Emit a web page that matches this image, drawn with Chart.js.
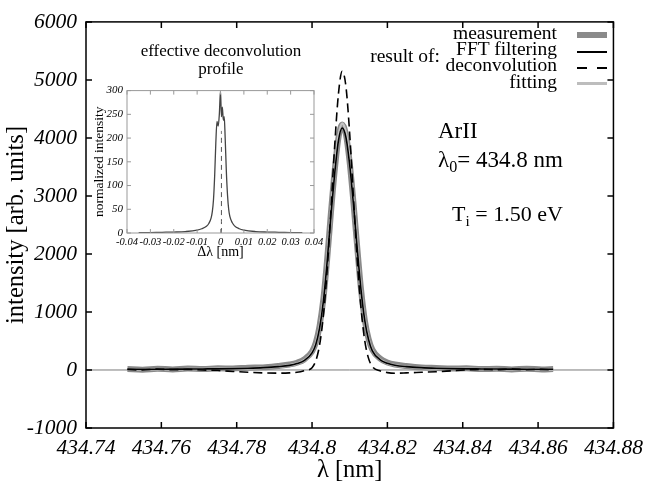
<!DOCTYPE html>
<html>
<head>
<meta charset="utf-8">
<script src="https://cdn.jsdelivr.net/npm/chart.js@4.4.0/dist/chart.umd.min.js"></script>
<style>
  body { margin: 0; background: #fff; }
  #wrap { position: relative; width: 650px; height: 487px; font-family: "Liberation Serif", "DejaVu Serif", serif; color: #000; }
  #wrap canvas { position: absolute; }
  .txt { position: absolute; white-space: nowrap; }
  .txt sub { font-size: 70%; vertical-align: -0.3em; line-height: 0; }
  .key { position: absolute; left: 577px; width: 30px; height: 0; }
</style>
</head>
<body>
<div id="wrap">
  <canvas id="main" width="650" height="487" style="left:0;top:0"></canvas>
  <canvas id="inset" width="245" height="183" style="left:90px;top:80px"></canvas>

  <div class="txt" style="left:121px;width:200px;top:42px;font-size:17px;line-height:18px;text-align:center">effective deconvolution<br>profile</div>

  <div class="txt" style="right:210px;top:48px;font-size:19.5px;line-height:16.2px">result of:</div>
  <div class="txt" style="right:93px;top:25px;font-size:19.5px;line-height:16.2px;text-align:right">measurement<br>FFT filtering<br>deconvolution<br>fitting</div>
  <div class="key" style="top:32px;border-top:6px solid #8a8a8a"></div>
  <div class="key" style="top:51px;border-top:2px solid #000"></div>
  <div class="key" style="top:67px;height:2px;background:repeating-linear-gradient(to right,#000 0 10px,transparent 10px 20px)"></div>
  <div class="key" style="top:82px;border-top:3px solid #bdbdbd"></div>

  <div class="txt" style="left:438px;top:119px;font-size:23px;line-height:23px">ArII</div>
  <div class="txt" style="left:438px;top:148px;font-size:23px;line-height:23px">λ<sub>0</sub>= 434.8 nm</div>
  <div class="txt" style="left:452px;top:203px;font-size:22px;line-height:22px">T<sub>i</sub> = 1.50 eV</div>
</div>
<script>
// main spectrum, wavelength in nm
const lambda = [434.751, 434.755, 434.759, 434.763, 434.767, 434.771, 434.775, 434.779, 434.783, 434.787, 434.791,
  434.794, 434.796, 434.798,
  434.800, 434.801, 434.802, 434.803, 434.804, 434.805, 434.806, 434.807,
  434.808,
  434.809, 434.810, 434.811, 434.812, 434.813, 434.814, 434.815, 434.816,
  434.818, 434.820, 434.822, 434.825, 434.829, 434.833, 434.837, 434.841, 434.845, 434.849, 434.853, 434.857, 434.861, 434.864];

const measured = [15, 5, 20, 10, 25, 15, 30, 25, 40, 45, 70,
  95, 125, 185,
  320, 470, 760, 1220, 1900, 2700, 3430, 4000,
  4230,
  4060, 3570, 2880, 2110, 1390, 860, 540, 350,
  200, 130, 95, 70, 45, 35, 25, 30, 15, 20, 10, 20, 10, 15];

const fftFiltered = [12, 12, 13, 14, 16, 18, 20, 24, 30, 40, 58,
  80, 110, 165,
  295, 440, 720, 1180, 1860, 2660, 3380, 3950,
  4170,
  4010, 3530, 2850, 2090, 1380, 850, 520, 330,
  180, 115, 82, 58, 40, 30, 24, 20, 18, 16, 14, 13, 12, 12];

const deconvolved = [10, 0, 15, 5, 10, 0, -10, -25, -40, -50, -55,
  -50, -40, -10,
  40, 160, 430, 932, 1707, 2740, 3856, 4757,
  5150,
  4883, 4064, 2966, 1898, 1065, 500, 200, 60,
  -15, -45, -55, -50, -40, -30, -15, 0, 10, 5, 15, 5, 10, 0];

const fitted = [10, 11, 12, 13, 15, 17, 20, 24, 30, 40, 58,
  82, 112, 170,
  305, 455, 740, 1200, 1890, 2700, 3440, 4020,
  4250,
  4080, 3590, 2890, 2120, 1390, 860, 530, 335,
  180, 115, 82, 58, 40, 30, 24, 20, 17, 15, 13, 12, 11, 10];

const zeroX = [434.74, 434.88];
const zeroY = [0, 0];

const xTicks = [434.74, 434.76, 434.78, 434.8, 434.82, 434.84, 434.86, 434.88];
const yTicks = [-1000, 0, 1000, 2000, 3000, 4000, 5000, 6000];

// inset: effective deconvolution profile
const profileDl = [-0.035, -0.03, -0.025, -0.02, -0.015, -0.01, -0.008, -0.006, -0.005, -0.004, -0.0035, -0.003,
  -0.0025, -0.002, -0.0015, -0.001, -0.0005, 0, 0.0004, 0.0008, 0.0012, 0.0016, 0.002, 0.0025,
  0.003, 0.0035, 0.004, 0.005, 0.006, 0.008, 0.01, 0.015, 0.02, 0.025, 0.03, 0.035];
const profileVal = [0.5, 1, 1.5, 2, 3, 6, 9, 14, 20, 32, 45, 70,
  120, 190, 235, 225, 250, 300, 245, 265, 238, 245, 200, 130,
  80, 50, 35, 22, 15, 9, 6, 3, 2, 1.5, 1, 0.5];
const centreX = [0.0004, 0.0004];
const centreY = [0, 215];

const inXTicks = [-0.04, -0.03, -0.02, -0.01, 0, 0.01, 0.02, 0.03, 0.04];
const inYTicks = [0, 50, 100, 150, 200, 250, 300];

const zip = (xs, ys) => xs.map((v, i) => ({ x: v, y: ys[i] }));

// box around the plot with inward ticks on all four sides
const frameTicks = {
  id: "frameTicks",
  afterDatasetsDraw(chart, args, opts) {
    const { ctx, chartArea: a, scales: { x, y } } = chart;
    ctx.save();
    ctx.strokeStyle = opts.color;
    ctx.lineWidth = opts.width;
    ctx.strokeRect(a.left, a.top, a.right - a.left, a.bottom - a.top);
    ctx.beginPath();
    x.ticks.forEach(t => {
      const px = x.getPixelForValue(t.value);
      ctx.moveTo(px, a.bottom); ctx.lineTo(px, a.bottom - opts.len);
      ctx.moveTo(px, a.top); ctx.lineTo(px, a.top + opts.len);
    });
    y.ticks.forEach(t => {
      const py = y.getPixelForValue(t.value);
      ctx.moveTo(a.left, py); ctx.lineTo(a.left + opts.len, py);
      ctx.moveTo(a.right, py); ctx.lineTo(a.right - opts.len, py);
    });
    ctx.stroke();
    ctx.restore();
  }
};

const serif = "'Liberation Serif', 'DejaVu Serif', serif";

function line(data, color, width, order, dash) {
  return {
    data,
    borderColor: color,
    borderWidth: width,
    borderDash: dash || [],
    pointRadius: 0,
    fill: false,
    cubicInterpolationMode: "monotone",
    order
  };
}

new Chart(document.getElementById("main"), {
  type: "line",
  data: {
    datasets: [
      line(zip(zeroX, zeroY), "#7a7a7a", 1, 5),
      line(zip(lambda, measured), "#8a8a8a", 6, 4),
      line(zip(lambda, fitted), "#c4c4c4", 2.5, 3),
      line(zip(lambda, fftFiltered), "#000", 1.6, 2),
      line(zip(lambda, deconvolved), "#000", 1.6, 1, [9, 5])
    ]
  },
  options: {
    responsive: false,
    animation: false,
    layout: { padding: { top: 15, right: 28, left: 0, bottom: 0 } },
    plugins: {
      legend: { display: false },
      tooltip: { enabled: false },
      frameTicks: { color: "#000", width: 1.5, len: 6 }
    },
    scales: {
      x: {
        type: "linear",
        min: 434.74,
        max: 434.88,
        afterBuildTicks: s => { s.ticks = xTicks.map(v => ({ value: v })); },
        afterFit: s => { s.height = 59; },
        grid: { display: false, drawTicks: false },
        border: { display: false },
        ticks: {
          autoSkip: false,
          maxRotation: 0,
          padding: 7,
          color: "#000",
          font: { family: serif, size: 21.5, style: "italic" },
          callback: v => String(Number(v.toFixed(2)))
        },
        title: {
          display: true,
          text: "λ [nm]",
          color: "#000",
          padding: { top: 0, bottom: 2 },
          font: { family: serif, size: 24.5 }
        }
      },
      y: {
        min: -1000,
        max: 6000,
        afterBuildTicks: s => { s.ticks = yTicks.map(v => ({ value: v })); },
        afterFit: s => { s.width = 86; },
        grid: { display: false, drawTicks: false },
        border: { display: false },
        ticks: {
          padding: 9,
          color: "#000",
          font: { family: serif, size: 21.5, style: "italic" },
          callback: v => String(v)
        },
        title: {
          display: true,
          text: "intensity [arb. units]",
          color: "#000",
          padding: { top: 2, bottom: 0 },
          font: { family: serif, size: 24.5 }
        }
      }
    }
  },
  plugins: [frameTicks]
});

new Chart(document.getElementById("inset"), {
  type: "line",
  data: {
    datasets: [
      line(zip(profileDl, profileVal), "#444", 1.3, 2),
      line(zip(centreX, centreY), "#555", 1, 1, [5, 4])
    ]
  },
  options: {
    responsive: false,
    animation: false,
    layout: { padding: { top: 9, right: 21, left: 0, bottom: 0 } },
    plugins: {
      legend: { display: false },
      tooltip: { enabled: false },
      frameTicks: { color: "#999", width: 1, len: 4 }
    },
    scales: {
      x: {
        type: "linear",
        min: -0.04,
        max: 0.04,
        afterBuildTicks: s => { s.ticks = inXTicks.map(v => ({ value: v })); },
        afterFit: s => { s.height = 30; },
        grid: { display: false, drawTicks: false },
        border: { display: false },
        ticks: {
          autoSkip: false,
          maxRotation: 0,
          padding: 3,
          color: "#000",
          font: { family: serif, size: 10.5, style: "italic" },
          callback: v => (v === 0 ? "0" : v.toFixed(2))
        },
        title: {
          display: true,
          text: "Δλ [nm]",
          color: "#000",
          padding: { top: 0, bottom: 2 },
          font: { family: serif, size: 14 }
        }
      },
      y: {
        min: 0,
        max: 300,
        afterBuildTicks: s => { s.ticks = inYTicks.map(v => ({ value: v })); },
        afterFit: s => { s.width = 37; },
        grid: { display: false, drawTicks: false },
        border: { display: false },
        ticks: {
          padding: 4,
          color: "#000",
          font: { family: serif, size: 11, style: "italic" }
        },
        title: {
          display: true,
          text: "normalized intensity",
          color: "#000",
          padding: { top: 1, bottom: 0 },
          font: { family: serif, size: 13.5 }
        }
      }
    }
  },
  plugins: [frameTicks]
});
</script>
</body>
</html>
